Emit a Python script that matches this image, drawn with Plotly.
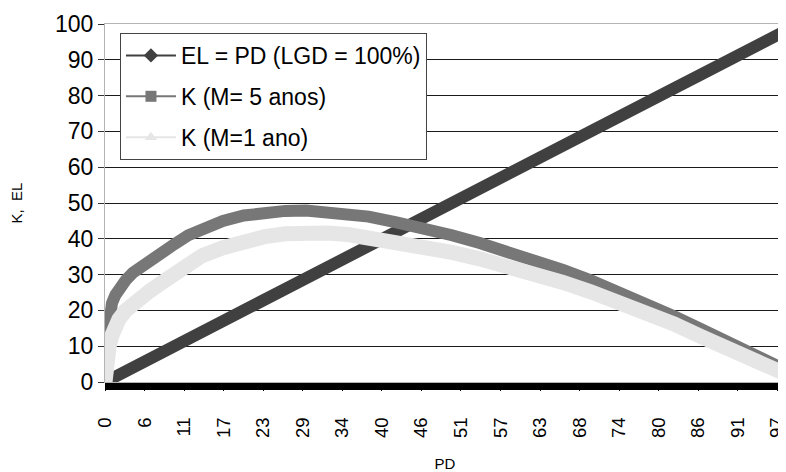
import plotly.graph_objects as go

# ---- data ----
pd_values = [0, 0.1, 0.3, 0.6, 1, 1.5, 2, 3, 4, 5, 6.5, 8, 10, 12, 14, 17, 20, 23, 26, 29,
             32, 35, 38, 42, 46, 50, 54, 58, 62, 66, 70, 74, 78, 82, 86, 90, 94, 98]
el_values = [0, 0.1, 0.3, 0.6, 1, 1.5, 2, 3, 4, 5, 6.5, 8, 10, 12, 14, 17, 20, 23, 26, 29,
             32, 35, 38, 42, 46, 50, 54, 58, 62, 66, 70, 74, 78, 82, 86, 90, 94, 98]
k_m5 = [7, 9, 14, 18.5, 22, 24.3, 26, 28.5, 30.5, 32, 34, 36, 38.5, 41, 42.8, 45, 46.5, 47.3,
        47.8, 47.9, 47.6, 47, 46.2, 44.6, 43, 41, 38.8, 36.5, 34, 31.3, 28.4, 25.3, 22, 18.4,
        14.7, 10.8, 7, 3.5]
k_m1 = [0, 3, 6.5, 10, 13, 15.5, 17.5, 20, 22, 23.5, 25.5, 27.5, 30.5, 33, 35.3, 37.5, 39.3,
        40.6, 41.4, 41.7, 41.6, 41.2, 40.4, 39.3, 37.8, 36.2, 34.4, 32.4, 30.2, 27.8, 25.2,
        22.4, 19.4, 16.2, 12.6, 9, 5.5, 2.3]

tick_pd = [0, 5.7, 11.4, 17.1, 22.8, 28.5, 34.2, 39.9, 45.6, 51.3, 57, 62.7, 68.4, 74.1,
           79.8, 85.5, 91.2, 96.9]
tick_labels = ["0", "6", "11", "17", "23", "29", "34", "40", "46", "51", "57", "63", "68",
               "74", "80", "86", "91", "97"]
y_ticks = [0, 10, 20, 30, 40, 50, 60, 70, 80, 90, 100]

names = ["EL = PD (LGD = 100%)", "K (M= 5 anos)", "K (M=1 ano)"]
colors = ["#404040", "#777777", "#e6e6e6"]
symbols = ["diamond", "square", "triangle-up"]

FONT = "Liberation Sans, Arial, sans-serif"

fig = go.Figure()

series = [el_values, k_m5, k_m1]
widths = [12, 12, 15]
for vals, col, w in zip(series, colors, widths):
    fig.add_trace(go.Scatter(x=pd_values, y=vals, mode="lines",
                             line=dict(color=col, width=w), showlegend=False,
                             hoverinfo="skip"))

# legend entries (thin line + marker, as in the reference)
for i, (nm, col, sym) in enumerate(zip(names, colors, symbols)):
    fig.add_trace(go.Scatter(x=[None], y=[None], mode="lines+markers", name=nm,
                             legendgroup="g%d" % i,
                             line=dict(color=col, width=2),
                             marker=dict(symbol=sym, size=11, color=col)))

# the page body has an 8px margin, so the figure is sized to fit the window
fig.update_layout(
    width=778, height=464,
    margin=dict(l=97, r=1, t=16, b=90),
    paper_bgcolor="white", plot_bgcolor="white",
    font=dict(family=FONT, color="#000000"),
    legend=dict(x=0.022, y=0.975, xanchor="left", yanchor="top",
                bgcolor="white", bordercolor="#444444", borderwidth=1,
                font=dict(size=23, family=FONT, color="#000000"),
                tracegroupgap=8, itemwidth=50, traceorder="grouped"),
    shapes=[dict(type="rect", xref="paper", yref="paper",
                 x0=0.0015, x1=1, y0=-0.0225, y1=-0.003,
                 fillcolor="#000000", line=dict(width=0), layer="above")],
)

fig.update_xaxes(range=[0, 98], tickmode="array", tickvals=tick_pd, ticktext=tick_labels,
                 tickangle=-90, tickfont=dict(size=18.5, family=FONT, color="#000000"),
                 ticks="outside", ticklen=8, tickcolor="#000000",
                 ticklabelstandoff=19,
                 showgrid=False, zeroline=False, automargin=False,
                 ticklabeloverflow="allow",
                 showline=True, linecolor="#b4b4b4", linewidth=1, mirror=True,
                 title=dict(text="PD", font=dict(size=15, family=FONT, color="#000000"),
                            standoff=24))

fig.update_yaxes(range=[0, 100], tickmode="array", tickvals=y_ticks,
                 tickfont=dict(size=23, family=FONT, color="#000000"),
                 ticks="outside", ticklen=6, tickcolor="#333333",
                 showgrid=True, gridcolor="#1a1a1a", gridwidth=1, zeroline=False,
                 automargin=False,
                 showline=True, linecolor="#b4b4b4", linewidth=1, mirror=True,
                 title=dict(text="K,  EL", font=dict(size=15, family=FONT, color="#000000"),
                            standoff=30))

fig.write_html("out.html")
